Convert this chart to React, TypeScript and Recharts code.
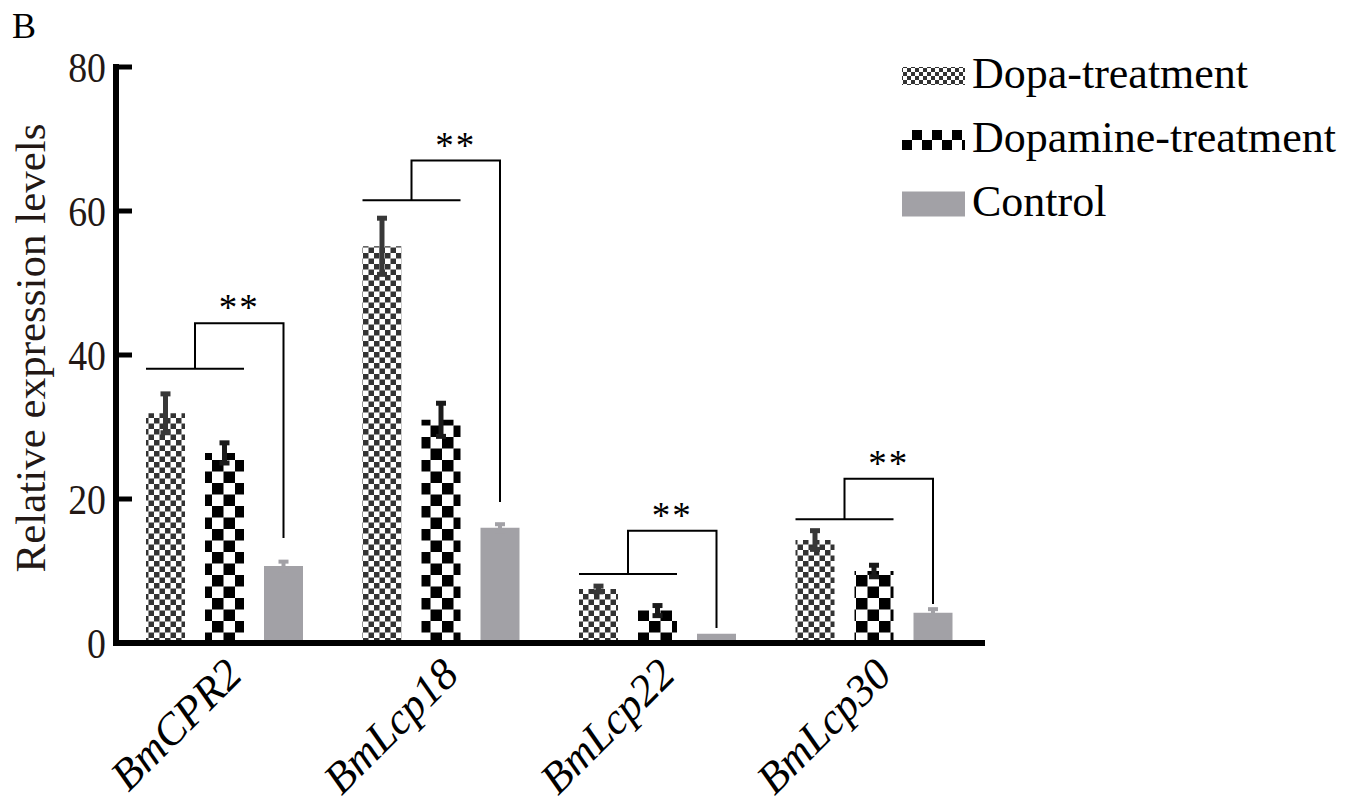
import { Bar, BarChart, ErrorBar, Label, Legend, Rectangle, XAxis, YAxis } from 'recharts'

const categories = ['BmCPR2', 'BmLcp18', 'BmLcp22', 'BmLcp30']
const dopaValues = [31.9, 55.1, 7.5, 14.3]
const dopaErrors = [2.7, 3.9, 0.4, 1.3]
const dopamineValues = [26.4, 31.0, 4.5, 10.0]
const dopamineErrors = [1.4, 2.3, 0.7, 0.8]
const controlValues = [10.7, 16.0, 1.3, 4.2]
const controlErrors = [0.6, 0.5, 0, 0.5]
// significance brackets (data units): pair line, top line, end of the right leg
const bracketLow = [38.1, 61.5, 9.6, 17.2]
const bracketTop = [44.4, 67.0, 15.6, 22.8]
const bracketEnd = [14.6, 19.6, 2.1, 5.4]
const yTicks = [0, 20, 40, 60, 80]
const seriesNames = ['Dopa-treatment', 'Dopamine-treatment', 'Control']

const data = categories.map((name, i) => ({
  name,
  dopa: dopaValues[i],
  dopaErr: dopaErrors[i],
  dopamine: dopamineValues[i],
  dopamineErr: dopamineErrors[i],
  control: controlValues[i],
  controlErr: controlErrors[i],
}))

const SERIF = '"Liberation Serif", "Times New Roman", serif'
const GREY = '#a2a1a6'
const BAR_SIZE = 39
const BAR_GAP = 20
const Y_MAX = 80

const YTick = (props: any) => {
  const { x, y, payload } = props
  return (
    <g>
      <line x1={x + 10} x2={x + 26} y1={y} y2={y} stroke="#000" strokeWidth={5} />
      <text
        transform={`translate(${x}, ${y}) scale(0.9, 1)`}
        dy="0.35em"
        textAnchor="end"
        fontFamily={SERIF}
        fontSize={42}
        fill="#231815"
      >
        {payload.value}
      </text>
    </g>
  )
}

const XTick = (props: any) => {
  const { x, y, payload } = props
  const ax = x + 20
  return (
    <text
      x={ax}
      y={y}
      transform={`rotate(-45, ${ax}, ${y})`}
      textAnchor="end"
      fontFamily={SERIF}
      fontStyle="italic"
      fontSize={44}
      fill="#000"
    >
      {payload.value}
    </text>
  )
}

const YTitle = (props: any) => {
  const { viewBox } = props
  const cx = viewBox.x + 30
  const cy = viewBox.y + viewBox.height / 2 - 7
  return (
    <text
      x={cx}
      y={cy}
      transform={`rotate(-90, ${cx}, ${cy})`}
      textAnchor="middle"
      dominantBaseline="central"
      fontFamily={SERIF}
      fontSize={43}
      fill="#231815"
    >
      Relative expression levels
    </text>
  )
}

// control bar + the ** bracket of its group
const ControlShape = (props: any) => {
  const { x, y, width, height, index, background, payload } = props
  let base = y + height
  let perUnit = height / payload.control
  if (background && background.height) {
    base = background.y + background.height
    perUnit = background.height / Y_MAX
  }
  const toY = (v: number) => base - v * perUnit
  const left = x - 2 * (width + BAR_GAP)
  const pairRight = x - BAR_GAP
  const mid = (left + pairRight) / 2
  const ctrl = x + width / 2
  const low = toY(bracketLow[index])
  const top = toY(bracketTop[index])
  const end = toY(bracketEnd[index])
  return (
    <g>
      <Rectangle x={x} y={y} width={width} height={height} fill={GREY} />
      <path
        d={`M${left},${low}H${pairRight}M${mid},${low}V${top}H${ctrl}V${end}`}
        stroke="#000"
        strokeWidth={2}
        fill="none"
      />
      <text
        x={(mid + ctrl) / 2}
        y={top - 3}
        textAnchor="middle"
        fontFamily={SERIF}
        fontSize={37}
        letterSpacing={2}
        fill="#000"
      >
        **
      </text>
    </g>
  )
}

const legendFills = ['url(#dopaLegend)', 'url(#dopamineLegend)', GREY]
const legendHeights = [18, 20, 25]

const LegendBox = () => (
  <svg width={450} height={200} style={{ display: 'block' }}>
    <defs>
      <pattern id="dopaLegend" patternUnits="userSpaceOnUse" width={8} height={8}>
        <rect width={8} height={8} fill="#fff" />
        <rect width={4} height={4} fill="#333" />
        <rect x={4} y={4} width={4} height={4} fill="#333" />
      </pattern>
      <pattern id="dopamineLegend" patternUnits="userSpaceOnUse" width={20} height={20} x={7} y={0}>
        <rect width={20} height={20} fill="#fff" />
        <rect width={10} height={10} fill="#000" />
        <rect x={10} y={10} width={10} height={10} fill="#000" />
      </pattern>
    </defs>
    {seriesNames.map((name, i) => {
      const cy = 36 + i * 64
      return (
        <g key={name}>
          <rect x={7} y={cy - legendHeights[i] / 2} width={63} height={legendHeights[i]} fill={legendFills[i]} />
          <text x={77} y={cy + 12} fontFamily={SERIF} fontSize={44} fill="#000">
            {name}
          </text>
        </g>
      )
    })}
  </svg>
)

export default function App() {
  return (
    <div style={{ position: 'absolute', left: 0, top: 0, width: 1348, height: 803, background: '#fff' }}>
      <svg width={60} height={50} style={{ position: 'absolute', left: 0, top: 0 }}>
        <text x={12} y={38} fontFamily={SERIF} fontSize={36} fill="#000">
          B
        </text>
      </svg>
      <BarChart
        width={1348}
        height={803}
        data={data}
        margin={{ top: 67, right: 366, bottom: 0, left: 0 }}
        barGap={BAR_GAP}
      >
        <defs>
          <pattern id="dopaPat" patternUnits="userSpaceOnUse" width={11} height={11}>
            <rect width={11} height={11} fill="#fff" />
            <rect width={5.5} height={5.5} fill="#333" />
            <rect x={5.5} y={5.5} width={5.5} height={5.5} fill="#333" />
          </pattern>
          <pattern id="dopaminePat" patternUnits="userSpaceOnUse" width={23} height={23} x={5} y={0}>
            <rect width={23} height={23} fill="#fff" />
            <rect width={11.5} height={11.5} fill="#000" />
            <rect x={11.5} y={11.5} width={11.5} height={11.5} fill="#000" />
          </pattern>
        </defs>
        <XAxis
          dataKey="name"
          height={160}
          interval={0}
          tickLine={false}
          tickSize={0}
          tickMargin={34}
          axisLine={{ stroke: '#000', strokeWidth: 6, strokeLinecap: 'square' }}
          tick={<XTick />}
        />
        <YAxis
          width={116}
          domain={[0, Y_MAX]}
          ticks={yTicks}
          interval={0}
          tickLine={false}
          tickSize={0}
          tickMargin={10}
          axisLine={{ stroke: '#000', strokeWidth: 6, strokeLinecap: 'square' }}
          tick={<YTick />}
        >
          <Label content={<YTitle />} />
        </YAxis>
        <Legend
          layout="vertical"
          align="center"
          verticalAlign="middle"
          wrapperStyle={{ left: 895, top: 40, width: 450 }}
          content={() => <LegendBox />}
        />
        <Bar dataKey="dopa" name={seriesNames[0]} fill="url(#dopaPat)" barSize={BAR_SIZE} isAnimationActive={false}>
          <ErrorBar dataKey="dopaErr" direction="y" width={5} strokeWidth={5} stroke="#383838" isAnimationActive={false} />
        </Bar>
        <Bar dataKey="dopamine" name={seriesNames[1]} fill="url(#dopaminePat)" barSize={BAR_SIZE} isAnimationActive={false}>
          <ErrorBar dataKey="dopamineErr" direction="y" width={5} strokeWidth={5} stroke="#1a1a1a" isAnimationActive={false} />
        </Bar>
        <Bar
          dataKey="control"
          name={seriesNames[2]}
          fill={GREY}
          barSize={BAR_SIZE}
          background={{ fill: 'none' }}
          shape={<ControlShape />}
          isAnimationActive={false}
        >
          <ErrorBar dataKey="controlErr" direction="y" width={5} strokeWidth={4} stroke={GREY} isAnimationActive={false} />
        </Bar>
      </BarChart>
    </div>
  )
}
